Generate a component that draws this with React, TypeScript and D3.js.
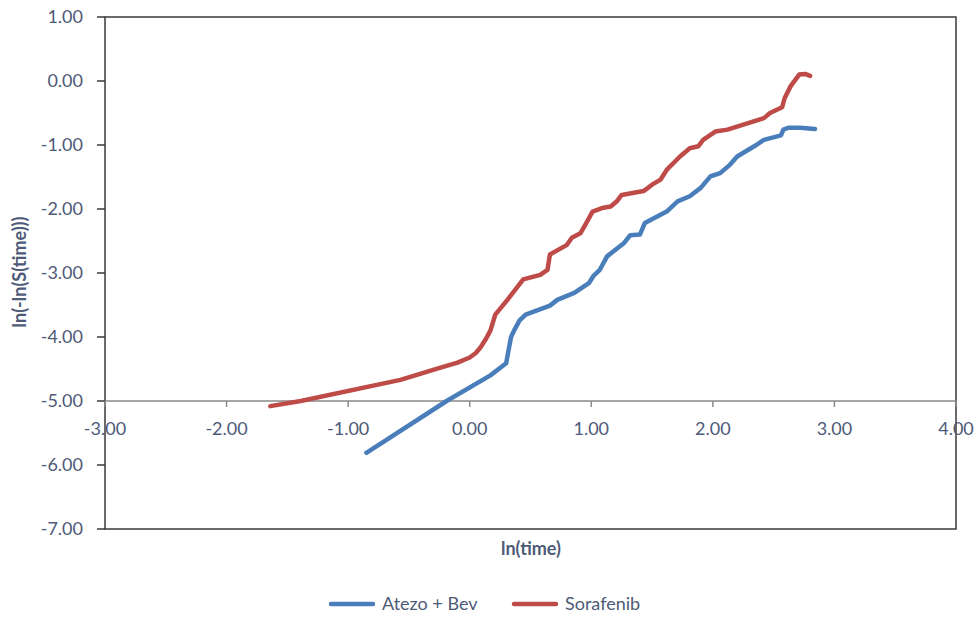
import React, { useEffect, useRef } from "react"
import * as d3 from "d3"

// ln(time) vs ln(-ln(S(time)))
const atezoX = [-0.85, -0.19, 0.17, 0.30, 0.32, 0.34, 0.37, 0.41, 0.46, 0.66, 0.72, 0.86, 0.98, 1.02, 1.07, 1.13, 1.27, 1.32, 1.40, 1.44, 1.62, 1.71, 1.81, 1.90, 1.98, 2.06, 2.14, 2.20, 2.34, 2.42, 2.56, 2.58, 2.62, 2.72, 2.84]
const atezoY = [-5.81, -5.0, -4.60, -4.41, -4.20, -4.00, -3.88, -3.74, -3.65, -3.51, -3.42, -3.31, -3.16, -3.04, -2.95, -2.74, -2.53, -2.41, -2.40, -2.22, -2.04, -1.88, -1.80, -1.67, -1.49, -1.44, -1.31, -1.18, -1.02, -0.92, -0.85, -0.76, -0.73, -0.73, -0.75]

const soraX = [-1.64, -1.39, -0.57, -0.24, -0.10, 0.0, 0.05, 0.09, 0.13, 0.17, 0.21, 0.31, 0.44, 0.58, 0.64, 0.66, 0.80, 0.84, 0.91, 0.95, 1.01, 1.10, 1.16, 1.21, 1.25, 1.43, 1.50, 1.57, 1.62, 1.73, 1.81, 1.88, 1.92, 2.02, 2.12, 2.42, 2.47, 2.57, 2.59, 2.64, 2.71, 2.76, 2.80]
const soraY = [-5.08, -5.0, -4.67, -4.48, -4.40, -4.32, -4.25, -4.16, -4.04, -3.90, -3.65, -3.42, -3.10, -3.03, -2.95, -2.71, -2.56, -2.45, -2.38, -2.25, -2.04, -1.98, -1.96, -1.88, -1.78, -1.72, -1.62, -1.54, -1.39, -1.18, -1.05, -1.02, -0.92, -0.79, -0.76, -0.58, -0.50, -0.41, -0.27, -0.08, 0.10, 0.11, 0.08]

const seriesNames = ["Atezo + Bev", "Sorafenib"]
const seriesColors = ["#4a7ebb", "#be4b48"]
const xTicks = [-3, -2, -1, 0, 1, 2, 3, 4]
const yTicks = [1, 0, -1, -2, -3, -4, -5, -6, -7]

const W = 978, H = 617
const font = "Lato, 'Open Sans', sans-serif"
const textColor = "#4d5a78"
const fs = 18

export default function App() {
  const ref = useRef<SVGSVGElement>(null)

  useEffect(() => {
    const svg = d3.select(ref.current)
    svg.selectAll("*").remove()

    const left = 105, right = 956, top = 17, bottom = 529
    const x = d3.scaleLinear().domain([-3, 4]).range([left, right])
    const y = d3.scaleLinear().domain([-7, 1]).range([bottom, top])

    // frame
    svg.append("rect")
      .attr("x", left).attr("y", top)
      .attr("width", right - left).attr("height", bottom - top)
      .attr("fill", "none").attr("stroke", "#3a3a3a").attr("stroke-width", 1.5)

    // y axis ticks + labels
    const ya = svg.append("g")
    yTicks.forEach(t => {
      ya.append("line")
        .attr("x1", left - 8).attr("x2", left)
        .attr("y1", y(t)).attr("y2", y(t))
        .attr("stroke", "#3a3a3a").attr("stroke-width", 1.5)
      ya.append("text")
        .attr("x", 83).attr("y", y(t))
        .attr("dy", "0.35em")
        .attr("text-anchor", "end")
        .attr("font-family", font).attr("font-size", fs)
        .attr("fill", textColor)
        .text(t.toFixed(2))
    })

    // x axis crossing at y = -5
    const ax = y(-5)
    svg.append("line")
      .attr("x1", left).attr("x2", right)
      .attr("y1", ax).attr("y2", ax)
      .attr("stroke", "#8a8a8a").attr("stroke-width", 1.5)
    xTicks.forEach(t => {
      svg.append("line")
        .attr("x1", x(t)).attr("x2", x(t))
        .attr("y1", ax).attr("y2", ax + 6)
        .attr("stroke", "#8a8a8a").attr("stroke-width", 1.5)
      svg.append("text")
        .attr("x", x(t)).attr("y", ax + 34)
        .attr("text-anchor", "middle")
        .attr("font-family", font).attr("font-size", fs)
        .attr("fill", textColor)
        .text(t.toFixed(2))
    })

    const line = d3.line<[number, number]>()
      .x(d => x(d[0]))
      .y(d => y(d[1]))

    const series = [
      d3.zip(atezoX, atezoY) as [number, number][],
      d3.zip(soraX, soraY) as [number, number][],
    ]
    series.forEach((s, i) => {
      svg.append("path")
        .attr("d", line(s))
        .attr("fill", "none")
        .attr("stroke", seriesColors[i])
        .attr("stroke-width", 4.5)
        .attr("stroke-linejoin", "round")
        .attr("stroke-linecap", "round")
    })

    // axis titles
    svg.append("text")
      .attr("x", 531).attr("y", 555)
      .attr("text-anchor", "middle")
      .attr("font-family", font).attr("font-size", fs).attr("font-weight", "bold")
      .attr("fill", textColor)
      .text("ln(time)")
    svg.append("text")
      .attr("transform", "translate(26,272) rotate(-90)")
      .attr("text-anchor", "middle")
      .attr("font-family", font).attr("font-size", fs).attr("font-weight", "bold")
      .attr("fill", textColor)
      .text("ln(-ln(S(time)))")

    // legend
    const legX = [331, 514]
    seriesNames.forEach((n, i) => {
      svg.append("line")
        .attr("x1", legX[i]).attr("x2", legX[i] + 42)
        .attr("y1", 604).attr("y2", 604)
        .attr("stroke", seriesColors[i]).attr("stroke-width", 4.5)
        .attr("stroke-linecap", "round")
      svg.append("text")
        .attr("x", legX[i] + 51).attr("y", 604)
        .attr("dy", "0.35em")
        .attr("font-family", font).attr("font-size", fs)
        .attr("fill", textColor)
        .text(n)
    })
  }, [])

  return (
    <svg ref={ref} width={W} height={H}
      style={{ position: "fixed", left: 0, top: 0, background: "#fff" }} />
  )
}
